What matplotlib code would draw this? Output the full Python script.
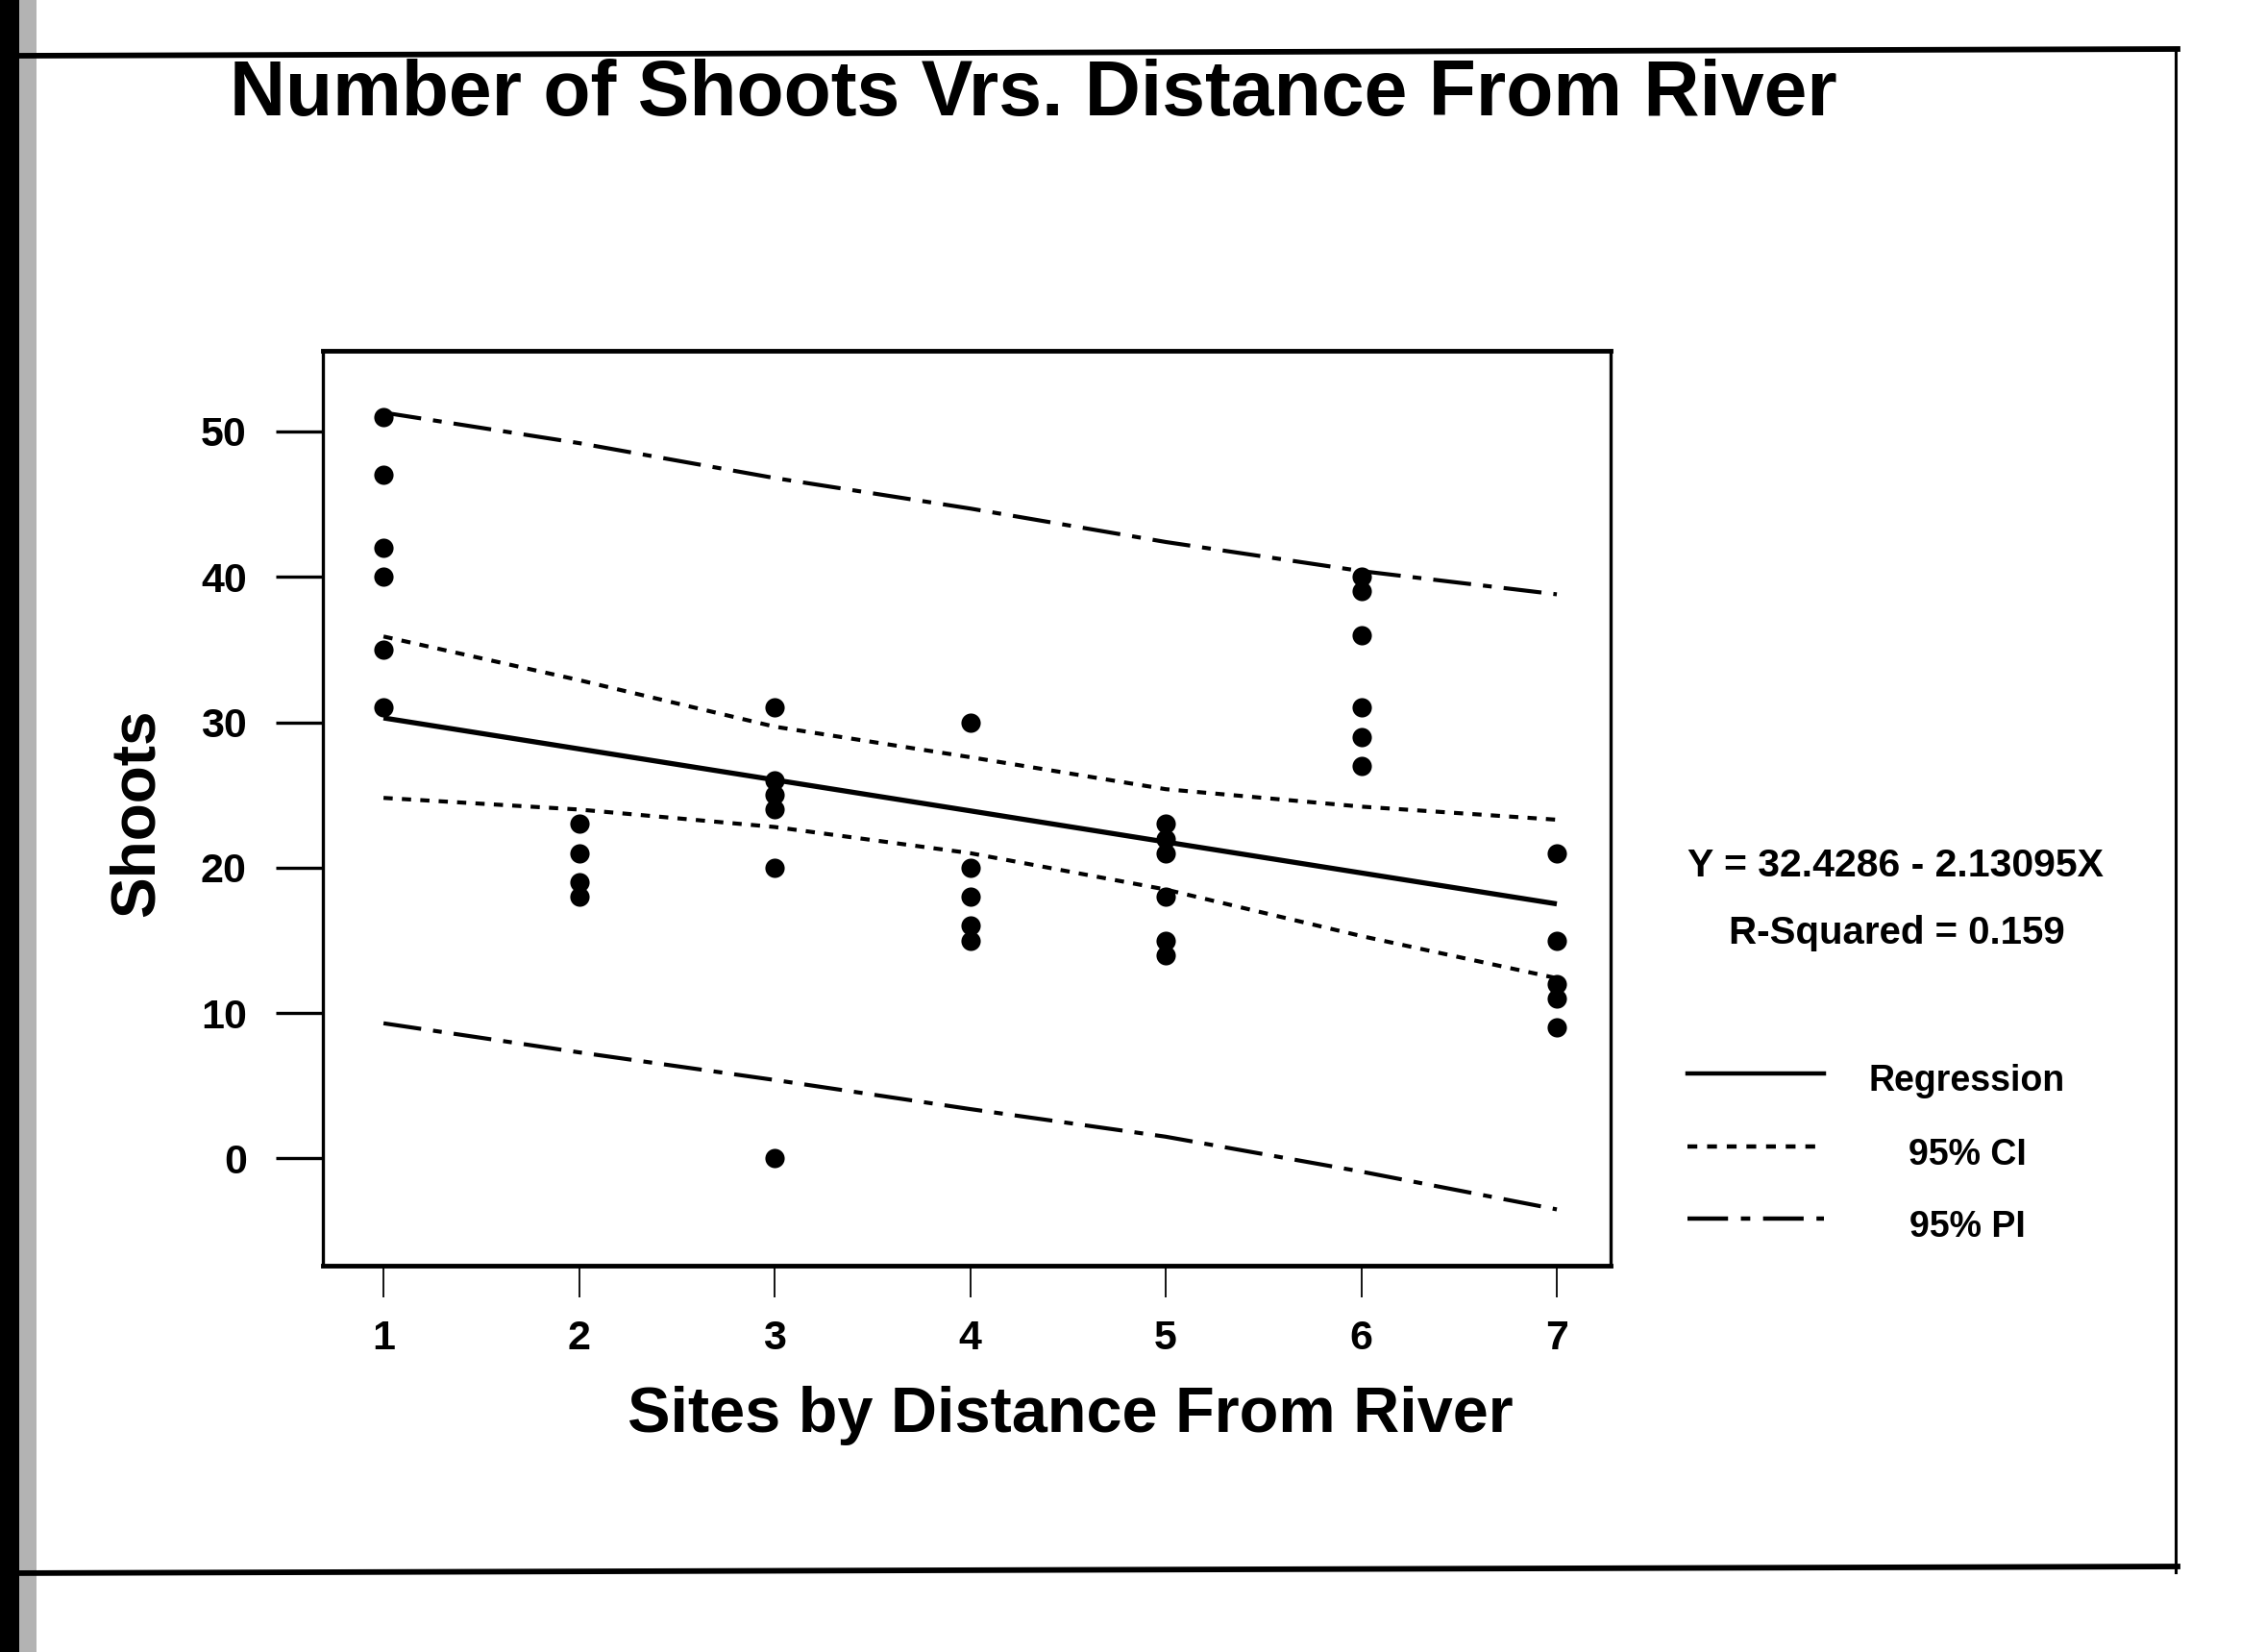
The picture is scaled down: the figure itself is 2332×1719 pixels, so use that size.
import numpy as np
import matplotlib
matplotlib.use("Agg")
import matplotlib.pyplot as plt
from matplotlib.lines import Line2D
from matplotlib.patches import Rectangle

plt.rcParams['font.family'] = ['Liberation Sans', 'DejaVu Sans']

# observed shoots per site
site_x = [1, 1, 1, 1, 1, 1,
          2, 2, 2, 2,
          3, 3, 3, 3, 3, 3,
          4, 4, 4, 4, 4,
          5, 5, 5, 5, 5, 5,
          6, 6, 6, 6, 6, 6,
          7, 7, 7, 7, 7]
shoots = [51, 47, 42, 40, 35, 31,
          23, 21, 19, 18,
          31, 26, 25, 24, 20, 0,
          30, 20, 18, 16, 15,
          23, 22, 21, 18, 15, 14,
          40, 39, 36, 31, 29, 27,
          21, 15, 12, 11, 9]

# fitted line and bands, read at each site
line_x = [1, 2, 3, 4, 5, 6, 7]
fit_y = [30.30, 28.17, 26.04, 23.91, 21.77, 19.64, 17.51]
ci_upper = [35.9, 32.9, 29.7, 27.6, 25.4, 24.2, 23.3]
ci_lower = [24.8, 24.0, 22.8, 21.0, 18.5, 15.3, 12.4]
pi_upper = [51.3, 49.2, 46.8, 44.7, 42.4, 40.4, 38.8]
pi_lower = [9.3, 7.3, 5.4, 3.4, 1.5, -0.9, -3.5]

y_ticks = [0, 10, 20, 30, 40, 50]
x_ticks = [1, 2, 3, 4, 5, 6, 7]

W, H = 2332, 1719
fig = plt.figure(figsize=(W / 100, H / 100), dpi=100)
fig.patch.set_facecolor('white')


def fx(px):
    return px / W


def fy(py):
    return 1 - py / H


ax = fig.add_axes([fx(336), fy(1317), fx(1676) - fx(336), fy(365) - fy(1317)])

ax.scatter(site_x, shoots, s=210, color='black', zorder=5, linewidths=0)

CI_DASH = (2.3, 2.3)
PI_DASH = (9.5, 3.0, 2.2, 3.0)

ax.plot(line_x, fit_y, color='black', lw=3.8, solid_capstyle='butt')
ax.plot(line_x, ci_upper, color='black', lw=3.0, dashes=CI_DASH)
ax.plot(line_x, ci_lower, color='black', lw=3.0, dashes=CI_DASH)
ax.plot(line_x, pi_upper, color='black', lw=3.0, dashes=PI_DASH)
ax.plot(line_x, pi_lower, color='black', lw=3.0, dashes=PI_DASH)

ax.set_xlim(0.69, 7.275)
ax.set_ylim(-7.37, 55.55)

ax.set_xticks(x_ticks)
ax.set_yticks(y_ticks)
ax.tick_params(axis='y', direction='out', length=35, width=2.4, pad=22,
               labelsize=31)
ax.tick_params(axis='x', direction='out', length=24, width=1.3, pad=16,
               labelsize=31)
for lab in ax.get_xticklabels() + ax.get_yticklabels():
    lab.set_fontweight('bold')

for side in ['top', 'bottom']:
    ax.spines[side].set_linewidth(3.5)
for side in ['left', 'right']:
    ax.spines[side].set_linewidth(2.4)

# titles and axis labels
fig.text(fx(1075), fy(120), 'Number of Shoots Vrs. Distance From River',
         ha='center', va='baseline', fontsize=58, fontweight='bold')
fig.text(fx(1114), fy(1490), 'Sites by Distance From River',
         ha='center', va='baseline', fontsize=48, fontweight='bold')
fig.text(fx(160), fy(846), 'Shoots', rotation=90, rotation_mode='anchor',
         ha='center', va='baseline', fontsize=46, fontweight='bold')

# equation block
fig.text(fx(1972), fy(912), 'Y = 32.4286 - 2.13095X', ha='center',
         va='baseline', fontsize=29.5, fontweight='bold')
fig.text(fx(1974), fy(982), 'R-Squared = 0.159', ha='center',
         va='baseline', fontsize=29, fontweight='bold')

# legend drawn by hand
legend_rows = [('Regression', None, 1117, 1135),
               ('95% CI', CI_DASH, 1193, 1212),
               ('95% PI', PI_DASH, 1268, 1287)]
for label, dash, ly, base in legend_rows:
    ln = Line2D([fx(1756), fx(1898)], [fy(ly), fy(ly)], transform=fig.transFigure,
                color='black', lw=3.2)
    if dash is not None:
        ln.set_dashes(dash)
    fig.add_artist(ln)
    fig.text(fx(2047), fy(base), label, ha='center', va='baseline',
             fontsize=27, fontweight='bold')

# scanned page frame
fig.add_artist(Line2D([fx(20), fx(2266)], [fy(58), fy(51)],
                      transform=fig.transFigure, color='black', lw=4.2))
fig.add_artist(Line2D([fx(2264), fx(2264)], [fy(50), fy(1636)],
                      transform=fig.transFigure, color='black', lw=2.2))
fig.add_artist(Line2D([0, fx(2266)], [fy(1637), fy(1630)],
                      transform=fig.transFigure, color='black', lw=4.2))
fig.add_artist(Rectangle((0, 0), fx(20), 1, transform=fig.transFigure,
                         color='black', lw=0))
fig.add_artist(Rectangle((fx(20), 0), fx(18), 1, transform=fig.transFigure,
                         color='0.7', lw=0))

fig.savefig('out.png', dpi=100)
